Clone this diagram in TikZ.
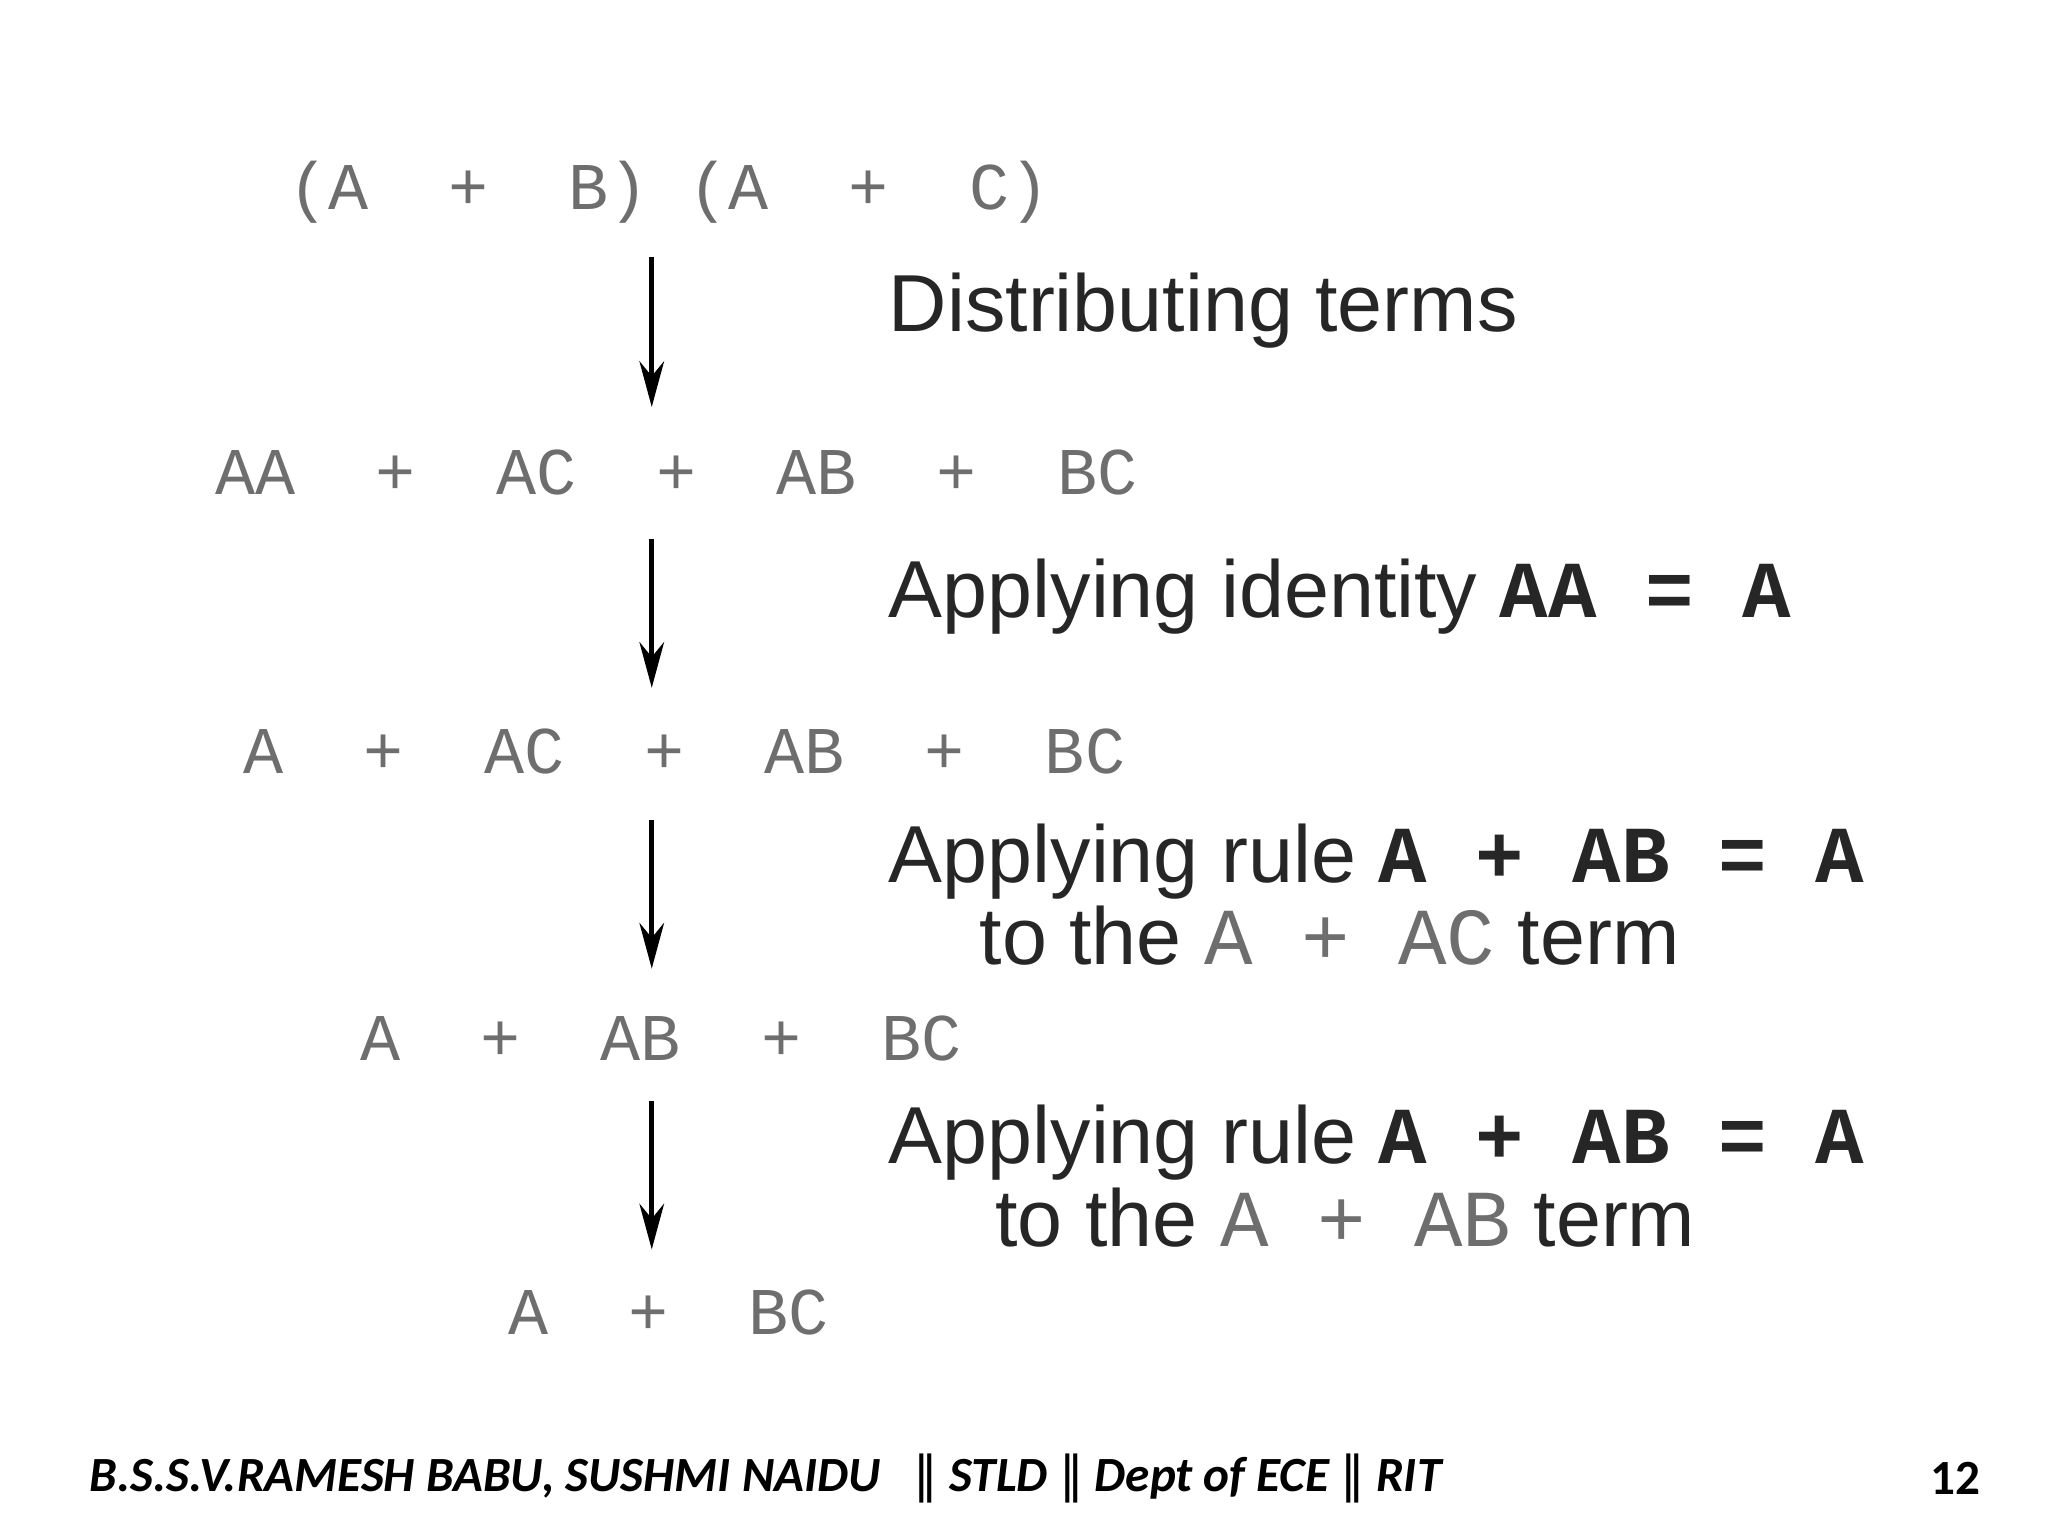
\documentclass[tikz,border=0pt]{standalone}
\usepackage{fontspec}
\setmainfont{Liberation Sans}
\setmonofont{Liberation Mono}
\newfontfamily\footfont{Carlito}
\newfontfamily\dvs{DejaVu Sans}
\usetikzlibrary{arrows.meta}
\definecolor{expgray}{RGB}{110,110,110}
\tikzset{
  expr/.style={font=\ttfamily\fontsize{19}{22}\selectfont, text=expgray, inner sep=0pt},
  note/.style={font=\fontsize{23}{26}\selectfont, text=black!85, inner sep=0pt},
  step/.style={},
  flow/.style={line width=1.4pt, -{Stealth[length=13pt,width=7pt]}, shorten >=2pt},
  foot/.style={font=\footfont\bfseries\itshape\fontsize{14}{16}\selectfont, inner sep=0pt}
}
\newcommand{\bm}[1]{{\ttfamily\bfseries #1}}
\newcommand{\gm}[1]{{\ttfamily\color{expgray}#1}}
\begin{document}
\begin{tikzpicture}[x=0.013061cm,y=-0.013061cm]
\useasboundingbox (0,0) rectangle (1568,1176);
\coordinate (ax) at (499,0);
\node[expr] (e1) at (512,147) {(A~~+~~B)~(A~~+~~C)};
\node[expr] (e2) at (518,362) {AA~~+~~AC~~+~~AB~~+~~BC};
\node[expr] (e3) at (524,575) {A~~+~~AC~~+~~AB~~+~~BC};
\node[expr] (e4) at (506,795) {A~~+~~AB~~+~~BC};
\node[expr] (e5) at (512,1005) {A~~+~~BC};
\coordinate (a1s) at (499,197); \coordinate (a1e) at (499,317);
\coordinate (a2s) at (499,413); \coordinate (a2e) at (499,532);
\coordinate (a3s) at (499,628); \coordinate (a3e) at (499,747);
\coordinate (a4s) at (499,843); \coordinate (a4e) at (499,962);
\draw[flow] (a1s) -- (a1e);
\draw[flow] (a2s) -- (a2e);
\draw[flow] (a3s) -- (a3e);
\draw[flow] (a4s) -- (a4e);
\node[note, anchor=west] (n1) at (680,238) {Distributing terms};
\node[note, anchor=west] (n2) at (680,457) {Applying identity \bm{AA~=~A}};
\node[note, anchor=west] (n3) at (680,660) {Applying rule \bm{A~+~AB~=~A}};
\node[note] (n3b) at (1018,716) {to the \gm{A~+~AC} term};
\node[note, anchor=west] (n4) at (680,875) {Applying rule \bm{A~+~AB~=~A}};
\node[note] (n4b) at (1030,932) {to the \gm{A~+~AB} term};
\node[foot, anchor=west] (ft) at (68,1132) {B.S.S.V.RAMESH BABU, SUSHMI NAIDU~~ {\dvs\mdseries\upshape ‖} STLD {\dvs\mdseries\upshape ‖} Dept of ECE {\dvs\mdseries\upshape ‖} RIT};
\node[foot, font=\footfont\bfseries\fontsize{14}{16}\selectfont] (pg) at (1497,1132) {12};
\end{tikzpicture}
\end{document}
